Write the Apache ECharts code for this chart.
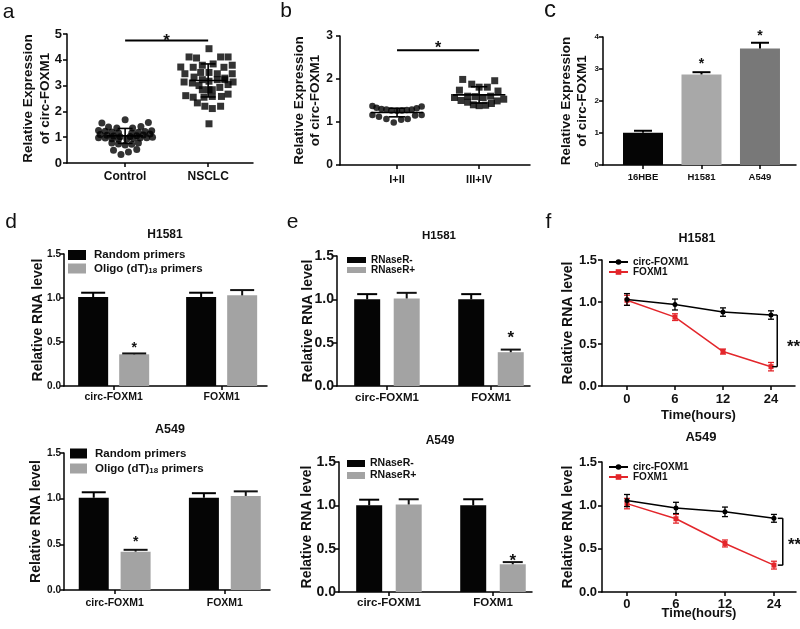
<!DOCTYPE html>
<html><head><meta charset="utf-8">
<script src="https://cdn.jsdelivr.net/npm/echarts@6/dist/echarts.min.js"></script>
<style>html,body{margin:0;padding:0;background:#fff}#c{width:800px;height:629px}</style>
</head><body><div id="c"></div>
<script>
// ================= DATA =================
// Panel a: scatter, [horizontal spread within column, value]
const aCategories = ['Control', 'NSCLC'];
const aControl = [[0.00,1.68],[-0.28,1.55],[0.28,1.57],
  [-0.20,1.40],[-0.10,1.36],[0.09,1.36],[0.19,1.41],
  [-0.32,1.26],[-0.24,1.23],[-0.16,1.20],[-0.08,1.17],[0.08,1.16],[0.16,1.19],[0.24,1.22],[0.32,1.25],
  [-0.30,1.10],[-0.22,1.08],[-0.14,1.05],[-0.06,1.02],[0.06,1.03],[0.14,1.06],[0.22,1.09],[0.30,1.12],
  [-0.32,0.98],[-0.24,0.97],[-0.16,0.94],[-0.08,0.92],[0.02,0.93],[0.10,0.95],[0.18,0.97],[0.26,0.98],[0.33,1.00],
  [-0.16,0.78],[-0.08,0.74],[0.00,0.70],[0.08,0.73],[0.16,0.78],
  [-0.14,0.49],[-0.05,0.33],[0.04,0.43],[0.14,0.52]];
const aNSCLC = [[0.01,4.43],
  [-0.23,4.11],[-0.14,4.07],[0.15,4.11],[0.24,4.11],
  [-0.33,3.72],[-0.18,3.71],[-0.07,3.79],[0.06,3.84],[0.19,3.71],[0.29,3.79],
  [-0.28,3.46],[-0.09,3.51],[0.01,3.51],[0.11,3.46],[0.29,3.46],
  [-0.17,3.33],[0.20,3.29],
  [-0.29,3.14],[-0.19,3.10],[-0.07,3.23],[0.01,3.17],[0.11,3.23],[0.20,3.23],[0.30,3.14],
  [-0.11,3.00],[0.01,2.84],[0.14,2.93],[0.24,3.04],[-0.07,2.84],[0.05,2.84],
  [-0.27,2.61],[-0.18,2.55],[-0.05,2.55],[0.05,2.58],[0.16,2.58],[0.24,2.67],
  [-0.13,2.33],[-0.04,2.20],[0.05,2.11],[0.15,2.20],
  [0.01,1.52]];
const aMean = [1.05, 3.20];
const aSD = [0.29, 0.64];
const aSigY = 4.75, aStarY = 4.88;

// Panel b
const bCategories = ['I+II', 'III+IV'];
const bEarly = [[-0.30,1.37],[-0.25,1.33],[-0.19,1.30],[-0.13,1.29],[-0.07,1.27],[0.00,1.26],[0.06,1.27],[0.12,1.28],[0.18,1.29],[0.24,1.32],[0.30,1.36],
  [-0.30,1.16],[-0.22,1.12],[-0.13,1.07],[-0.04,0.99],[0.05,1.05],[0.13,1.07],[0.22,1.15],[0.30,1.16]];
const bLate = [[-0.20,1.99],[0.19,1.96],[-0.09,1.88],[0.00,1.81],[0.10,1.81],[-0.24,1.74],[0.23,1.72],
  [-0.30,1.57],[-0.22,1.50],[-0.14,1.60],[-0.05,1.59],[0.05,1.57],[0.14,1.60],[0.22,1.49],[0.30,1.53],
  [-0.14,1.46],[-0.07,1.40],[0.00,1.38],[0.08,1.39],[0.15,1.43]];
const bMean = [1.22, 1.63];
const bSD = [0.10, 0.19];
const bSigY = 2.67, bStarY = 2.80;

// Panel c
const cCategories = ['16HBE', 'H1581', 'A549'];
const cValues = [1.01, 2.83, 3.64];
const cErrors = [0.06, 0.07, 0.18];
const cStarY = [null, 3.25, 4.11];

// Panels d / e (RNA level bars)
const rnaCategories = ['circ-FOXM1', 'FOXM1'];
const dSeries = ['Random primers', 'Oligo (dT)18 primers'];
const dH1581Random = [1.01, 1.01], dH1581RandomErr = [0.05, 0.05];
const dH1581Oligo = [0.36, 1.03], dH1581OligoErr = [0.01, 0.06];
const dA549Random = [1.01, 1.01], dA549RandomErr = [0.06, 0.05];
const dA549Oligo = [0.42, 1.03], dA549OligoErr = [0.02, 0.05];
const dH1581StarY = [0.47, null], dA549StarY = [0.56, null];

const eSeries = ['RNaseR-', 'RNaseR+'];
const eH1581Minus = [1.00, 1.00], eH1581MinusErr = [0.06, 0.06];
const eH1581Plus = [1.01, 0.39], eH1581PlusErr = [0.065, 0.03];
const eA549Minus = [1.00, 1.00], eA549MinusErr = [0.065, 0.07];
const eA549Plus = [1.01, 0.32], eA549PlusErr = [0.06, 0.025];
const eH1581StarY = [null, 0.59], eA549StarY = [null, 0.40];

// Panel f (time course)
const timeLabels = ['0', '6', '12', '24'];
const fSeries = ['circ-FOXM1', 'FOXM1'];
const fH1581Circ = [1.03, 0.97, 0.88, 0.845], fH1581CircErr = [0.07, 0.065, 0.05, 0.05];
const fH1581Foxm1 = [1.02, 0.82, 0.41, 0.23], fH1581Foxm1Err = [0.06, 0.04, 0.03, 0.05];
const fA549Circ = [1.055, 0.97, 0.925, 0.85], fA549CircErr = [0.07, 0.065, 0.055, 0.045];
const fA549Foxm1 = [1.02, 0.845, 0.56, 0.31], fA549Foxm1Err = [0.06, 0.05, 0.04, 0.045];
const fH1581Sig = {x: 3.13, starX: 3.47, starY: 0.51};
const fA549Sig = {x: 3.18, starX: 3.42, starY: 0.58};

// ================= STYLE =================
const FONT = '"Liberation Sans", Arial, Helvetica, sans-serif';
const TXT = '#111';
const GRAY = '#a3a3a3';
const RED = '#e3262b';
const cColors = ['#050505', '#a8a8a8', '#787878'];
const groupOffset = 0.19;

const grids = [
  {left: 67, top: 34, width: 186, height: 129},   // a
  {left: 340, top: 36, width: 190, height: 129},  // b
  {left: 603, top: 37, width: 193, height: 128},  // c
  {left: 64, top: 254, width: 203, height: 132},  // d top
  {left: 337, top: 256, width: 193, height: 130}, // e top
  {left: 602, top: 260, width: 193, height: 126}, // f top
  {left: 64, top: 453, width: 206, height: 137},  // d bottom
  {left: 339, top: 462, width: 193, height: 130}, // e bottom
  {left: 602, top: 462, width: 194, height: 130}  // f bottom
].map(g => Object.assign({containLabel: false, outerBoundsMode: 'none'}, g));

const axLine = {show: true, onZero: false, lineStyle: {color: '#000', width: 1.5}};
const axTick = {show: true, inside: false, length: 4, lineStyle: {color: '#000', width: 1.5}};

function yAx(gi, max, interval, o) {
  return {
    type: 'value', gridIndex: gi, min: 0, max: max, interval: interval,
    axisLine: axLine, axisTick: axTick, splitLine: {show: false},
    axisLabel: {fontSize: o.fs, fontWeight: 'bold', color: TXT, fontFamily: FONT, margin: o.margin,
      formatter: v => o.dec ? v.toFixed(o.dec) : String(v)},
    name: o.name, nameLocation: 'middle', nameGap: o.gap, nameRotate: 90, nameMoveOverlap: false,
    nameTextStyle: {fontSize: o.nfs, fontWeight: 'bold', color: TXT, fontFamily: FONT, lineHeight: o.lh}
  };
}
function xAx(gi, min, max, ticks, labels, o) {
  const ax = {
    type: 'value', gridIndex: gi, min: min, max: max,
    axisLine: axLine,
    axisTick: Object.assign({}, axTick, {customValues: ticks}),
    splitLine: {show: false},
    axisLabel: {customValues: ticks, fontSize: o.fs, fontWeight: 'bold', color: TXT, fontFamily: FONT, margin: o.margin,
      formatter: v => { const i = ticks.findIndex(t => Math.abs(t - v) < 1e-6); return i >= 0 ? labels[i] : ''; }}
  };
  if (o.name) {
    ax.name = o.name; ax.nameLocation = 'middle'; ax.nameGap = o.gap; ax.nameMoveOverlap = false;
    ax.nameTextStyle = {fontSize: o.nfs, fontWeight: 'bold', color: TXT, fontFamily: FONT};
  }
  return ax;
}

const exprName = 'Relative Expression\nof circ-FOXM1';
const rnaName = 'Relative RNA level';
const xAxes = [
  xAx(0, 0.30, 2.54, [1, 2], aCategories, {fs: 12, margin: 8}),
  xAx(1, 0.305, 2.62, [1, 2], bCategories, {fs: 11, margin: 9}),
  xAx(2, 0.316, 3.616, [1, 2, 3], cCategories, {fs: 9.5, margin: 7}),
  xAx(3, 0.54, 2.42, [1, 2], rnaCategories, {fs: 10.5, margin: 6}),
  xAx(4, 0.52, 2.375, [1, 2], rnaCategories, {fs: 11.5, margin: 6}),
  xAx(5, -0.52, 3.5, [0, 1, 2, 3], timeLabels, {fs: 13, margin: 7, name: 'Time(hours)', gap: 23, nfs: 13}),
  xAx(6, 0.54, 2.41, [1, 2], rnaCategories, {fs: 10.5, margin: 8}),
  xAx(7, 0.52, 2.375, [1, 2], rnaCategories, {fs: 11.5, margin: 5}),
  xAx(8, -0.51, 3.45, [0, 1, 2, 3], timeLabels, {fs: 13, margin: 6, name: 'Time(hours)', gap: 15, nfs: 13})
];
const yAxes = [
  yAx(0, 5, 1, {fs: 13, margin: 5, name: exprName, gap: 13, nfs: 13.5, lh: 17}),
  yAx(1, 3, 1, {fs: 12, margin: 7, name: exprName, gap: 17, nfs: 13.5, lh: 16}),
  yAx(2, 4, 1, {fs: 8, margin: 4, name: exprName, gap: 13, nfs: 13.5, lh: 16}),
  yAx(3, 1.5, 0.5, {fs: 10, margin: 3, dec: 1, name: rnaName, gap: 18, nfs: 14, lh: 16}),
  yAx(4, 1.5, 0.5, {fs: 14, margin: 3, dec: 1, name: rnaName, gap: 21, nfs: 14, lh: 16}),
  yAx(5, 1.5, 0.5, {fs: 13, margin: 5, dec: 1, name: rnaName, gap: 26, nfs: 14, lh: 16}),
  yAx(6, 1.5, 0.5, {fs: 10, margin: 3, dec: 1, name: rnaName, gap: 20, nfs: 14, lh: 16}),
  yAx(7, 1.5, 0.5, {fs: 14, margin: 3, dec: 1, name: rnaName, gap: 24, nfs: 14, lh: 16}),
  yAx(8, 1.5, 0.5, {fs: 13, margin: 5, dec: 1, name: rnaName, gap: 26, nfs: 14, lh: 16})
];

// ================= RENDERERS =================
function errRenderer(capPx, color, lw, both) {
  return function (params, api) {
    const x = api.value(0), y = api.value(1), e = api.value(2);
    const top = api.coord([x, y + e]);
    const bot = api.coord([x, both ? y - e : y]);
    const st = {stroke: color, lineWidth: lw};
    const ch = [
      {type: 'line', shape: {x1: top[0], y1: top[1], x2: bot[0], y2: bot[1]}, style: st},
      {type: 'line', shape: {x1: top[0] - capPx / 2, y1: top[1], x2: top[0] + capPx / 2, y2: top[1]}, style: st}
    ];
    if (both) ch.push({type: 'line', shape: {x1: bot[0] - capPx / 2, y1: bot[1], x2: bot[0] + capPx / 2, y2: bot[1]}, style: st});
    return {type: 'group', children: ch};
  };
}
function meanSdRenderer(meanHalf, capHalf) {
  return function (params, api) {
    const x = api.value(0), m = api.value(1), s = api.value(2);
    const st = {stroke: '#000', lineWidth: 1.6};
    const L = (a, b) => ({type: 'line', shape: {x1: a[0], y1: a[1], x2: b[0], y2: b[1]}, style: st});
    return {type: 'group', children: [
      L(api.coord([x - meanHalf, m]), api.coord([x + meanHalf, m])),
      L(api.coord([x, m + s]), api.coord([x, m - s])),
      L(api.coord([x - capHalf, m + s]), api.coord([x + capHalf, m + s])),
      L(api.coord([x - capHalf, m - s]), api.coord([x + capHalf, m - s]))
    ]};
  };
}
function sigLineRenderer(params, api) {
  const a = api.coord([api.value(0), api.value(2)]), b = api.coord([api.value(1), api.value(2)]);
  return {type: 'line', shape: {x1: a[0], y1: a[1], x2: b[0], y2: b[1]}, style: {stroke: '#000', lineWidth: 2}};
}
function textRenderer(text, fs) {
  return function (params, api) {
    const p = api.coord([api.value(0), api.value(1)]);
    return {type: 'text', x: p[0], y: p[1] + fs * 0.22,
      style: {text: text, fontSize: fs, fontWeight: 'bold', fontFamily: FONT, fill: TXT, align: 'center', verticalAlign: 'middle'}};
  };
}
function bracketRenderer(params, api) {
  const x = api.value(0);
  const a = api.coord([x, api.value(1)]), b = api.coord([x, api.value(2)]);
  const st = {stroke: '#000', lineWidth: 1.5};
  return {type: 'group', children: [
    {type: 'line', shape: {x1: a[0], y1: a[1], x2: b[0], y2: b[1]}, style: st},
    {type: 'line', shape: {x1: a[0] - 5, y1: a[1], x2: a[0], y2: a[1]}, style: st},
    {type: 'line', shape: {x1: b[0] - 5, y1: b[1], x2: b[0], y2: b[1]}, style: st}
  ]};
}

// ================= SERIES =================
const series = [];
function ax(gi) { return {xAxisIndex: gi, yAxisIndex: gi}; }
function custom(gi, data, renderItem, z) {
  series.push(Object.assign({type: 'custom', data: data, renderItem: renderItem, z: z || 5, silent: true}, ax(gi)));
}
function starData(ys, offs) {
  const out = [];
  ys.forEach((y, i) => { if (y != null) out.push([i + 1 + (offs || 0), y]); });
  return out;
}

// a
series.push(Object.assign({type: 'scatter', name: 'Control', symbol: 'circle', symbolSize: 7, itemStyle: {color: '#000'},
  data: aControl.map(p => [1 + p[0], p[1]])}, ax(0)));
series.push(Object.assign({type: 'scatter', name: 'NSCLC', symbol: 'rect', symbolSize: 7, itemStyle: {color: '#000'},
  data: aNSCLC.map(p => [2 + p[0], p[1]])}, ax(0)));
custom(0, aMean.map((m, i) => [i + 1, m, aSD[i]]), meanSdRenderer(0.22, 0.09));
custom(0, [[1, 2, aSigY]], sigLineRenderer);
custom(0, [[1.5, aStarY]], textRenderer('*', 17));

// b
series.push(Object.assign({type: 'scatter', name: 'I+II', symbol: 'circle', symbolSize: 6.5, itemStyle: {color: '#000'},
  data: bEarly.map(p => [1 + p[0], p[1]])}, ax(1)));
series.push(Object.assign({type: 'scatter', name: 'III+IV', symbol: 'rect', symbolSize: 7, itemStyle: {color: '#000'},
  data: bLate.map(p => [2 + p[0], p[1]])}, ax(1)));
custom(1, bMean.map((m, i) => [i + 1, m, bSD[i]]), meanSdRenderer(0.32, 0.1));
custom(1, [[1, 2, bSigY]], sigLineRenderer);
custom(1, [[1.5, bStarY]], textRenderer('*', 16));

// c
series.push(Object.assign({type: 'bar', name: 'cells', barWidth: 40,
  data: cValues.map((v, i) => ({value: [i + 1, v], itemStyle: {color: cColors[i]}}))}, ax(2)));
custom(2, cValues.map((v, i) => [i + 1, v, cErrors[i]]), errRenderer(18, '#000', 2, false));
custom(2, starData(cStarY), textRenderer('*', 14));

// d / e bar panels
function rnaPanel(gi, names, v1, e1, v2, e2, barW, capPx, starYs, starFs) {
  series.push(Object.assign({type: 'bar', name: names[0], barWidth: barW, barGap: '-100%', itemStyle: {color: '#050505'},
    data: v1.map((v, i) => [i + 1 - groupOffset, v])}, ax(gi)));
  series.push(Object.assign({type: 'bar', name: names[1], barWidth: barW, barGap: '-100%', itemStyle: {color: GRAY},
    data: v2.map((v, i) => [i + 1 + groupOffset, v])}, ax(gi)));
  custom(gi, v1.map((v, i) => [i + 1 - groupOffset, v, e1[i]]), errRenderer(capPx, '#000', 2, false));
  custom(gi, v2.map((v, i) => [i + 1 + groupOffset, v, e2[i]]), errRenderer(capPx, '#111', 2, false));
  custom(gi, starData(starYs, groupOffset), textRenderer('*', starFs));
}
rnaPanel(3, dSeries, dH1581Random, dH1581RandomErr, dH1581Oligo, dH1581OligoErr, 30, 24, dH1581StarY, 14);
rnaPanel(6, dSeries, dA549Random, dA549RandomErr, dA549Oligo, dA549OligoErr, 30, 24, dA549StarY, 14);
rnaPanel(4, eSeries, eH1581Minus, eH1581MinusErr, eH1581Plus, eH1581PlusErr, 26, 20, eH1581StarY, 17);
rnaPanel(7, eSeries, eA549Minus, eA549MinusErr, eA549Plus, eA549PlusErr, 26, 20, eA549StarY, 17);

// f time-course panels
function timePanel(gi, circ, circErr, fox, foxErr, sig) {
  series.push(Object.assign({type: 'line', name: fSeries[0], symbol: 'circle', symbolSize: 5,
    lineStyle: {color: '#000', width: 1.5}, itemStyle: {color: '#000'}, z: 4,
    data: circ.map((v, i) => [i, v])}, ax(gi)));
  series.push(Object.assign({type: 'line', name: fSeries[1], symbol: 'rect', symbolSize: 5,
    lineStyle: {color: RED, width: 1.5}, itemStyle: {color: RED}, z: 3,
    data: fox.map((v, i) => [i, v])}, ax(gi)));
  custom(gi, fox.map((v, i) => [i, v, foxErr[i]]), errRenderer(6, RED, 1.3, true), 3);
  custom(gi, circ.map((v, i) => [i, v, circErr[i]]), errRenderer(6, '#000', 1.3, true), 4);
  custom(gi, [[sig.x, circ[circ.length - 1], fox[fox.length - 1]]], bracketRenderer);
  custom(gi, [[sig.starX, sig.starY]], textRenderer('**', 17));
}
timePanel(5, fH1581Circ, fH1581CircErr, fH1581Foxm1, fH1581Foxm1Err, fH1581Sig);
timePanel(8, fA549Circ, fA549CircErr, fA549Foxm1, fA549Foxm1Err, fA549Sig);

// ================= LEGENDS =================
function legendCfg(names, left, top, o) {
  return {
    data: names, left: left, top: top, orient: 'vertical', selectedMode: false,
    itemWidth: o.iw, itemHeight: o.ih, itemGap: o.gap, icon: o.icon,
    padding: 0,
    formatter: name => name === dSeries[1] ? 'Oligo (dT){sub|18} primers' : name,
    textStyle: {fontSize: o.fs, fontWeight: 'bold', color: TXT, fontFamily: FONT, lineHeight: o.lh,
      padding: [0, 0, 0, o.tp || 0],
      rich: {sub: {fontSize: 8, fontWeight: 'bold', fontFamily: FONT, color: TXT, padding: [5, 0, 0, 0], lineHeight: o.lh}}}
  };
}
const legends = [
  legendCfg(dSeries, 68, 249, {iw: 18, ih: 10, gap: 1, icon: 'rect', fs: 11.5, lh: 12, tp: 3}),
  legendCfg(dSeries, 70, 447, {iw: 17, ih: 10, gap: 2, icon: 'rect', fs: 11.5, lh: 13, tp: 3}),
  legendCfg(eSeries, 347, 255, {iw: 19, ih: 6, gap: 0, icon: 'rect', fs: 10, lh: 8.5}),
  legendCfg(eSeries, 347, 458, {iw: 18, ih: 7, gap: 1, icon: 'rect', fs: 10.5, lh: 11}),
  legendCfg(fSeries, 608, 257, {iw: 19, ih: 7, gap: 0, icon: undefined, fs: 10, lh: 10}),
  legendCfg(fSeries, 608, 462, {iw: 19, ih: 7, gap: 0, icon: undefined, fs: 10, lh: 9.5})
];

// ================= TEXT =================
function txt(text, x, y, fs, weight) {
  return {type: 'text', x: x, y: y, silent: true,
    style: {text: text, fontSize: fs, fontWeight: weight || 'normal', fontFamily: FONT, fill: TXT, align: 'center', verticalAlign: 'middle'}};
}
const graphics = [
  txt('a', 8.5, 12, 21), txt('b', 286, 11, 21), txt('c', 550, 10, 24),
  txt('d', 11, 222, 21), txt('e', 292.5, 222, 21), txt('f', 548.5, 222, 21),
  txt('H1581', 165, 235, 12, 'bold'), txt('H1581', 439, 236, 11.5, 'bold'), txt('H1581', 697, 239, 12.5, 'bold'),
  txt('A549', 170, 430, 12.5, 'bold'), txt('A549', 440, 441, 12, 'bold'), txt('A549', 701, 437, 13, 'bold')
];

const chart = echarts.init(document.getElementById('c'), null, {renderer: 'canvas'});
chart.setOption({
  animation: false,
  backgroundColor: '#fff',
  textStyle: {fontFamily: FONT},
  grid: grids, xAxis: xAxes, yAxis: yAxes,
  legend: legends, series: series, graphic: graphics
});
</script></body></html>
